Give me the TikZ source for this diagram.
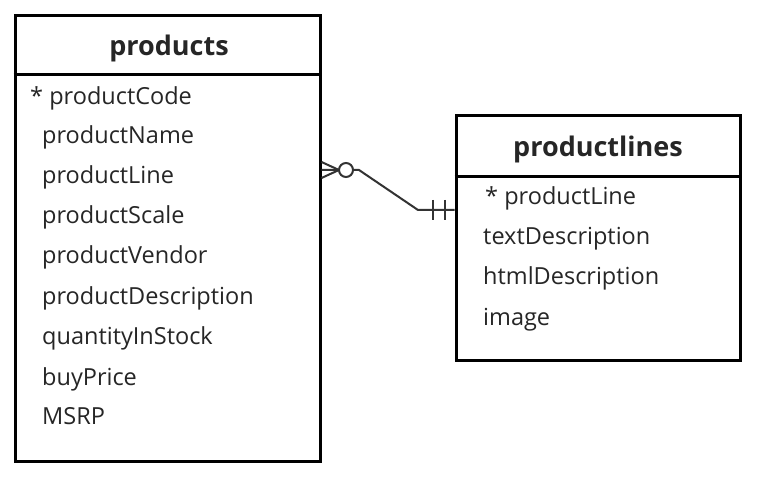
\documentclass[tikz,border=0pt]{standalone}
\usepackage{fontspec}
\setmainfont{Open Sans}
\begin{document}
\begin{tikzpicture}[x=1pt, y=-1pt,
    entity/.style={draw=black, line width=3pt, fill=white, inner sep=0pt},
    field/.style={anchor=base west, inner sep=0pt, font=\fontsize{23.5}{26}\selectfont, text=black!85},
    title/.style={anchor=base, inner sep=0pt, font=\fontsize{27}{30}\selectfont\bfseries, text=black!85},
    conn/.style={line width=2pt, black!80}]
    \useasboundingbox[fill=white] (0,0) rectangle (760,486);

    % products
    \node[entity, minimum width=305pt, minimum height=445pt] (products) at (167.5,238.5) {};
    \draw[line width=3pt] (products.west |- 0,75) -- (products.east |- 0,75);
    \node[title] (productsTitle) at (169,56) {products};
    \node[field] (pCode) at (30,105) {* productCode};
    \node[field] (pName) at (42,144) {productName};
    \node[field] (pLine) at (42,184) {productLine};
    \node[field] (pScale) at (42,224) {productScale};
    \node[field] (pVendor) at (42,264) {productVendor};
    \node[field] (pDesc) at (42,304) {productDescription};
    \node[field] (pStock) at (42,344) {quantityInStock};
    \node[field] (pPrice) at (42,385) {buyPrice};
    \node[field] (pMSRP) at (42,424) {MSRP};

    % productlines
    \node[entity, minimum width=284pt, minimum height=244pt] (productlines) at (598,238) {};
    \draw[line width=3pt] (productlines.west |- 0,177) -- (productlines.east |- 0,177);
    \node[title] (linesTitle) at (598,157) {productlines};
    \node[field] (lLine) at (485,205) {* productLine};
    \node[field] (lText) at (483,245) {textDescription};
    \node[field] (lHtml) at (483,285) {htmlDescription};
    \node[field] (lImage) at (483,325) {image};

    % relationship
    \coordinate (many) at (products.east |- 0,170);
    \coordinate (one) at (productlines.west |- 0,210);
    \coordinate (bend1) at (359,170);
    \coordinate (bend2) at (418,210);
    \draw[conn] (many) -- (bend1) -- (bend2) -- (one);
    \draw[conn] (many) ++(0,-8) -- (339,170);
    \draw[conn] (many) ++(0,8) -- (339,170);
    \draw[conn, fill=white] (346,170) circle (7);
    \draw[conn] (433,200) -- (433,220);
    \draw[conn] (445,200) -- (445,220);
\end{tikzpicture}
\end{document}
